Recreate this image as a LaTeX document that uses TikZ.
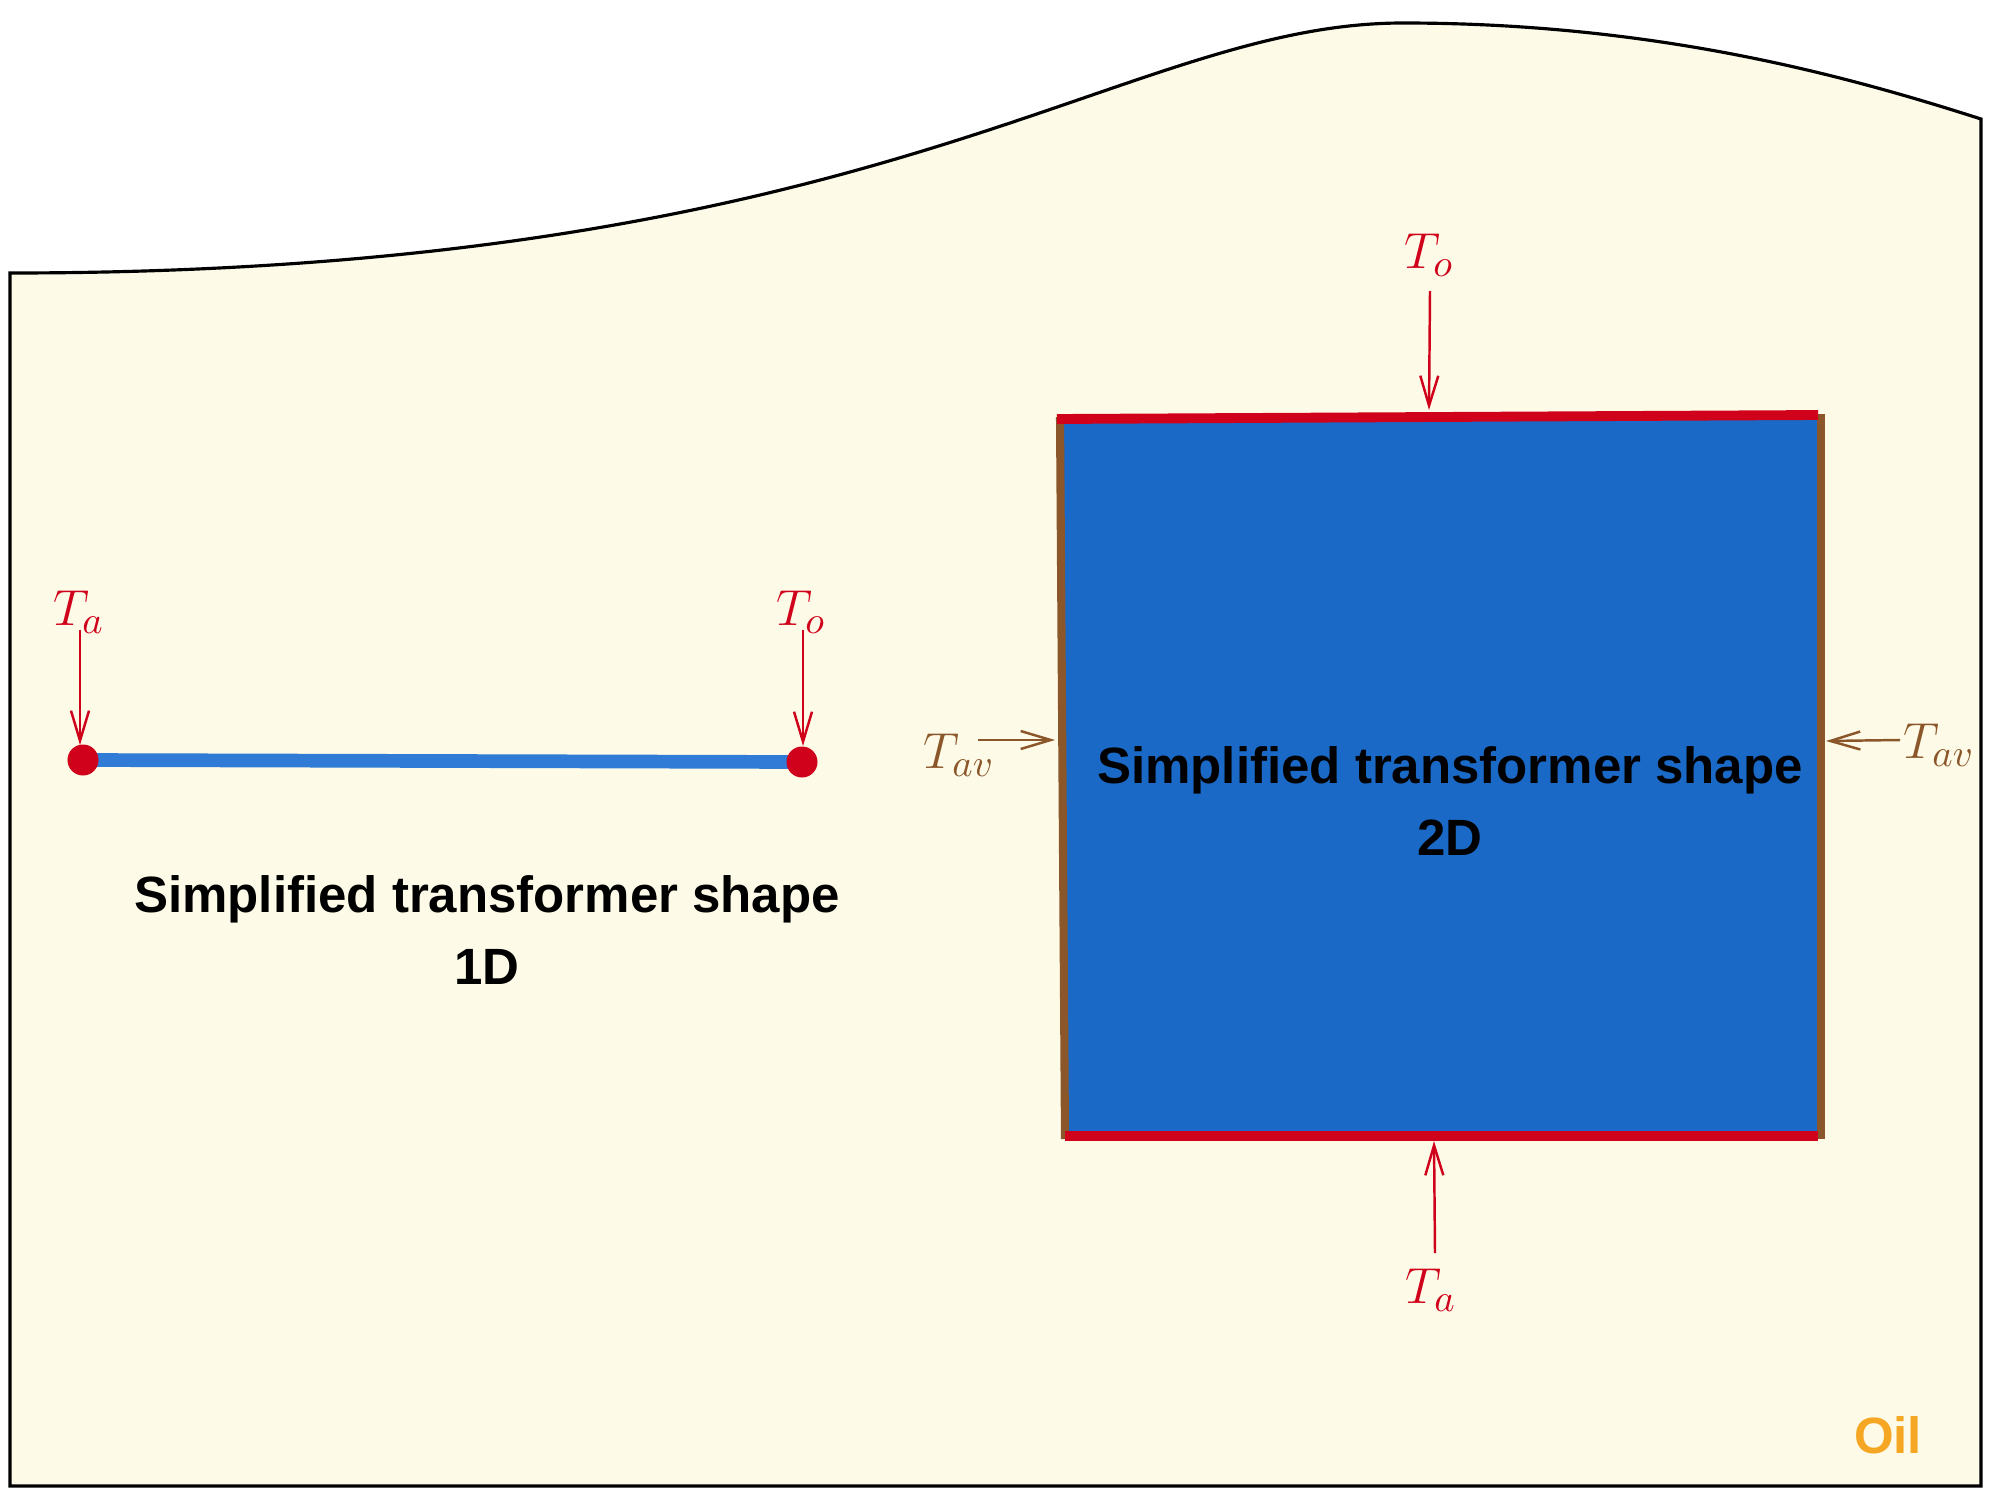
\documentclass[tikz,border=0pt]{standalone}
\usepackage{fontspec}
\setsansfont{Liberation Sans}
\usetikzlibrary{arrows.meta}
\definecolor{oilbg}{HTML}{FDFBE7}
\definecolor{tred}{HTML}{D0021B}
\definecolor{tbrown}{HTML}{8B572A}
\definecolor{toil}{HTML}{F5A623}
\definecolor{tblue}{HTML}{1B69C6}
\definecolor{tline}{HTML}{2F7BD6}
\tikzset{
  heat/.style={line width=0.7pt, -{Straight Barb[length=3mm,width=1.8mm]}},
  redarrow/.style={heat, draw=tred},
  brownarrow/.style={heat, draw=tbrown},
  lbl/.style={inner sep=0pt, font=\fontsize{15}{18}\selectfont},
  redlbl/.style={lbl, text=tred},
  brownlbl/.style={lbl, text=tbrown},
  title/.style={align=center, font=\sffamily\bfseries\fontsize{14.5}{20.7}\selectfont},
  dot/.style={circle, fill=tred, inner sep=0pt, minimum size=0.31cm}
}
\begin{document}
\begin{tikzpicture}[x=0.01cm,y=-0.01cm]
\useasboundingbox (0,0) rectangle (2000,1509);
\fill[white] (0,0) rectangle (2000,1509);
% oil tank outline
\draw[line width=0.9pt, fill=oilbg, line join=miter]
  (10,273) .. controls (893,273) and (1122,23) .. (1403,23)
  .. controls (1658,23) and (1850,77) .. (1981,119)
  -- (1981,1486) -- (10,1486) -- cycle;
% 1D line
\coordinate (c1) at (83,760);
\coordinate (c2) at (802,762);
\draw[tline, line width=3.9pt] (c1) -- (c2);
\node[dot] (d1) at (c1) {};
\node[dot] (d2) at (c2) {};
\node[redlbl] (ta1) at (79,612) {$T_a$};
\node[redlbl] (to1) at (801,612) {$T_o$};
\coordinate (ta1s) at (80,630);
\coordinate (to1s) at (803,630);
\coordinate (d1t) at (80,745);
\coordinate (d2t) at (803,746);
\draw[redarrow] (ta1s) -- (d1t);
\draw[redarrow] (to1s) -- (d2t);
\node[title] (t1) at (487,930) {Simplified transformer shape\\1D};
% 2D block
\fill[tblue] (1062,418) -- (1820,415) -- (1820,1136) -- (1065,1136) -- cycle;
\draw[tbrown, line width=2.3pt] (1060,417) -- (1065,1139);
\draw[tbrown, line width=2.3pt] (1821,414) -- (1821,1139);
\draw[tred, line width=2.8pt] (1057,419) -- (1818,415);
\draw[tred, line width=2.8pt] (1065,1136) -- (1818,1136);
\node[title] (t2) at (1450,801) {Simplified transformer shape\\2D};
% boundary labels
\node[redlbl] (to2) at (1429,255) {$T_o$};
\node[redlbl] (ta2) at (1431,1290) {$T_a$};
\node[brownlbl] (tav1) at (959,755) {$T_{av}$};
\node[brownlbl] (tav2) at (1939,745) {$T_{av}$};
\coordinate (to2s) at (1430,291);
\coordinate (to2e) at (1429,410);
\coordinate (ta2s) at (1435,1253);
\coordinate (ta2e) at (1434,1141);
\coordinate (tav1s) at (978,740);
\coordinate (tav1e) at (1055,740);
\coordinate (tav2s) at (1900,740);
\coordinate (tav2e) at (1826,741);
\draw[redarrow] (to2s) -- (to2e);
\draw[redarrow] (ta2s) -- (ta2e);
\draw[brownarrow] (tav1s) -- (tav1e);
\draw[brownarrow] (tav2s) -- (tav2e);
% oil label
\node[font=\sffamily\bfseries\fontsize{14.5}{17}\selectfont, text=toil] (oil) at (1888,1435) {Oil};
\end{tikzpicture}
\end{document}
